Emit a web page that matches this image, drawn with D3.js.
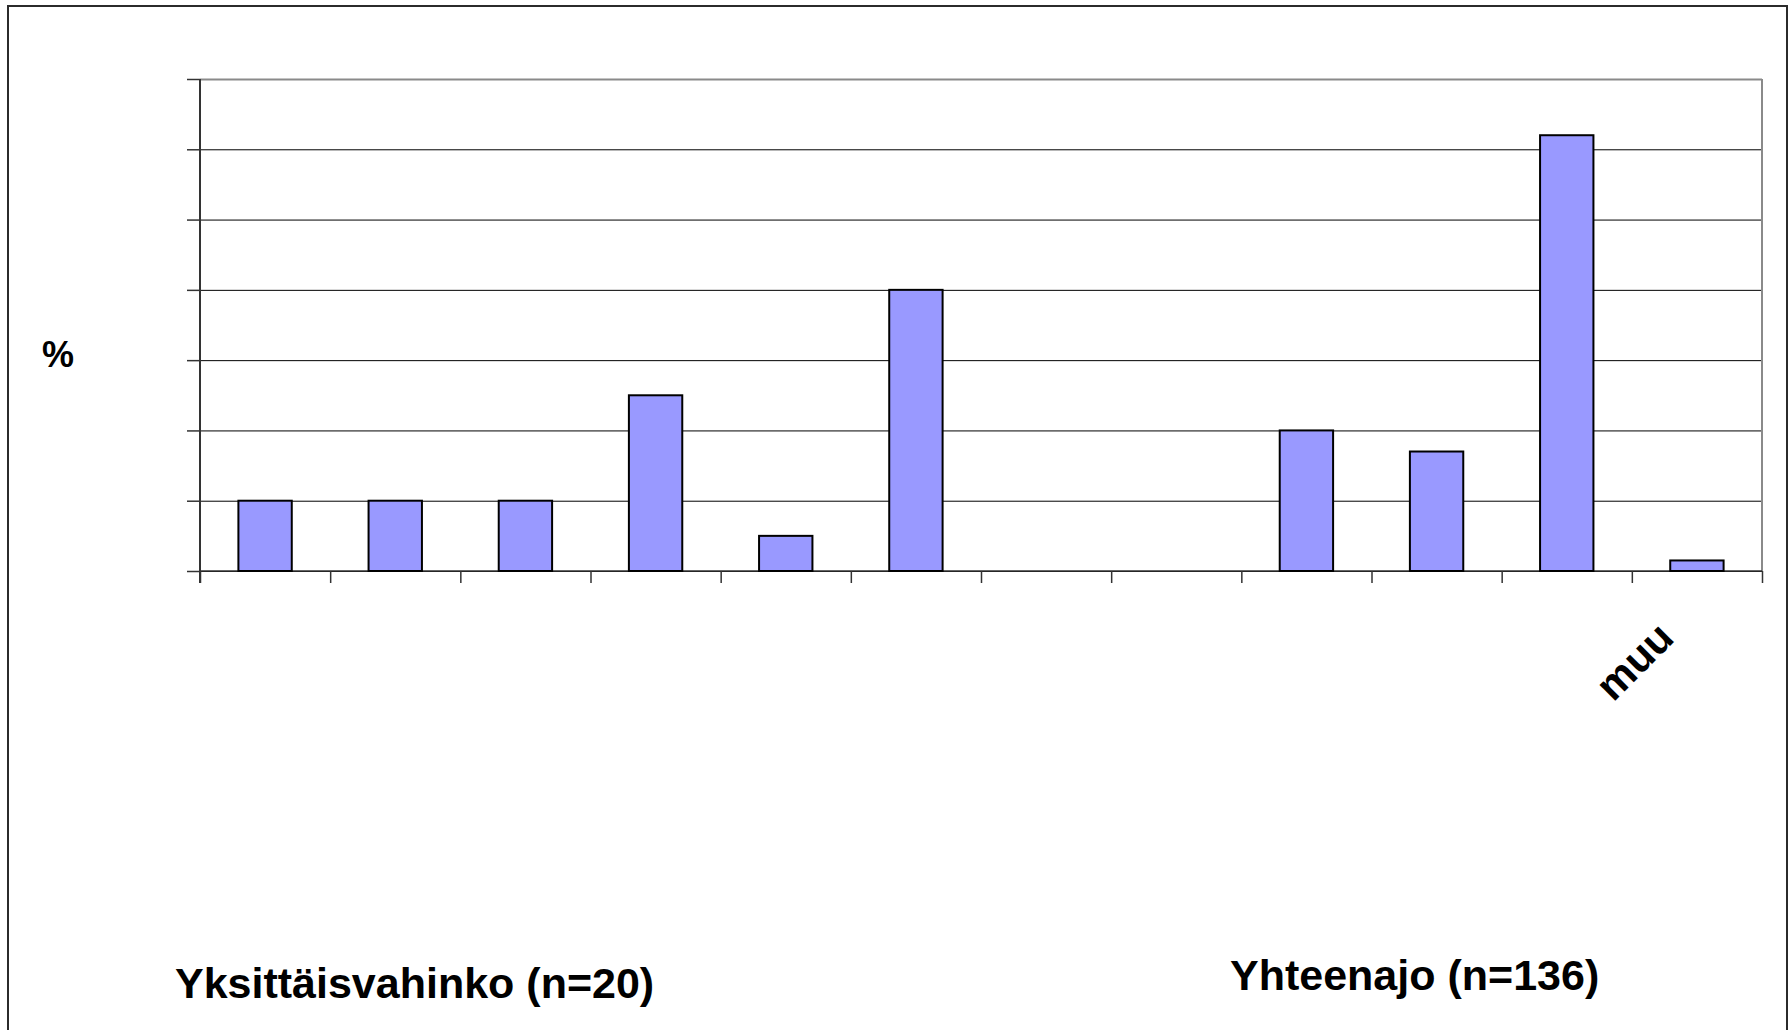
<!DOCTYPE html>
<html>
<head>
<meta charset="utf-8">
<script src="https://cdn.jsdelivr.net/npm/d3@7"></script>
<style>
  body { margin: 0; background: #fff; }
  text { font-family: "Liberation Sans", Arial, sans-serif; font-weight: bold; }
</style>
</head>
<body>
<div class="chart"></div>
<script>
// values in %, first six = Yksittäisvahinko, last six = Yhteenajo
var categories = ["k1", "k2", "k3", "k4", "k5", "k6", "k7", "k8", "k9", "k10", "k11", "k12"];
var tickLabels = ["", "", "", "", "", "", "", "", "", "", "", "muu"];
var values = [10, 10, 10, 25, 5, 40, 0, 0, 20, 17, 62, 1.5];
var yTicks = [0, 10, 20, 30, 40, 50, 60, 70];
var groupTitles = ["Yksittäisvahinko (n=20)", "Yhteenajo (n=136)"];

var W = 1789, H = 1030;
var margin = {top: 79, right: 27, bottom: 459, left: 200},
    width = W - margin.left - margin.right,
    height = H - margin.top - margin.bottom;

var svg = d3.select(".chart").append("svg")
    .attr("width", W)
    .attr("height", H);

// outer frame
svg.append("rect")
    .attr("x", 8).attr("y", 6)
    .attr("width", 1779).attr("height", 1040)
    .attr("fill", "none")
    .attr("stroke", "#2b2b2b")
    .attr("stroke-width", 2);

var g = svg.append("g")
    .attr("transform", "translate(" + margin.left + "," + margin.top + ")");

var x = d3.scaleBand()
    .domain(categories)
    .range([0, width])
    .paddingInner(0.59)
    .paddingOuter(0.295);

var xTick = d3.scaleLinear()
    .domain([0, categories.length])
    .range([0, width]);

var y = d3.scaleLinear()
    .domain([0, 70])
    .range([height, 0]);

// gridlines
g.append("g")
    .attr("class", "grid")
    .call(d3.axisLeft(y).tickValues(yTicks).tickSize(-width).tickFormat(""))
    .call(function(s){
      s.select(".domain").remove();
      s.selectAll(".tick line")
        .attr("stroke", function(d){ return d == 70 ? "#8a8a8a" : "#000"; })
        .attr("stroke-width", function(d){ return d == 70 ? 2 : 1; });
    });

// right border of plot area
g.append("line")
    .attr("x1", width).attr("x2", width)
    .attr("y1", 0).attr("y2", height)
    .attr("stroke", "#8a8a8a")
    .attr("stroke-width", 2);

// y axis with outer ticks
g.append("g")
    .call(d3.axisLeft(y).tickValues(yTicks).tickSize(13).tickFormat(""))
    .call(function(s){
      s.select(".domain").remove();
      s.selectAll(".tick line").attr("stroke", "#333").attr("stroke-width", 1.5);
    });

// x axis ticks at category boundaries
g.append("g")
    .attr("transform", "translate(0," + height + ")")
    .call(d3.axisBottom(xTick).tickValues(d3.range(categories.length + 1)).tickSize(12).tickFormat(""))
    .call(function(s){
      s.select(".domain").remove();
      s.selectAll(".tick line").attr("stroke", "#333").attr("stroke-width", 1.5);
    });

g.append("line")
    .attr("x1", 0).attr("x2", width)
    .attr("y1", height).attr("y2", height)
    .attr("stroke", "#333")
    .attr("stroke-width", 1.5);

g.append("line")
    .attr("x1", 0).attr("x2", 0)
    .attr("y1", 0).attr("y2", height + 12)
    .attr("stroke", "#333")
    .attr("stroke-width", 2);

// bars
g.selectAll(".bar")
    .data(values)
  .enter().append("rect")
    .attr("class", "bar")
    .attr("x", function(d, i){ return x(categories[i]); })
    .attr("width", x.bandwidth())
    .attr("y", function(d){ return y(d); })
    .attr("height", function(d){ return height - y(d); })
    .style("fill", "#9999ff")
    .style("stroke", "#000")
    .style("stroke-width", 2)
    .style("display", function(d){ return d > 0 ? null : "none"; });

// category labels, rotated
g.selectAll(".xlabel")
    .data(tickLabels)
  .enter().append("text")
    .attr("class", "xlabel")
    .attr("text-anchor", "end")
    .attr("font-size", 42)
    .attr("transform", function(d, i){
      var cx = x(categories[i]) + x.bandwidth() / 2 - 21;
      return "translate(" + cx + "," + (height + 69) + ") rotate(-45)";
    })
    .text(function(d){ return d; });

// y axis title
svg.append("text")
    .attr("x", 42).attr("y", 367)
    .attr("font-size", 36)
    .text("%");

// group titles
svg.append("text")
    .attr("x", 175).attr("y", 998)
    .attr("font-size", 43)
    .text(groupTitles[0]);

svg.append("text")
    .attr("x", 1230).attr("y", 990)
    .attr("font-size", 43)
    .text(groupTitles[1]);
</script>
</body>
</html>
